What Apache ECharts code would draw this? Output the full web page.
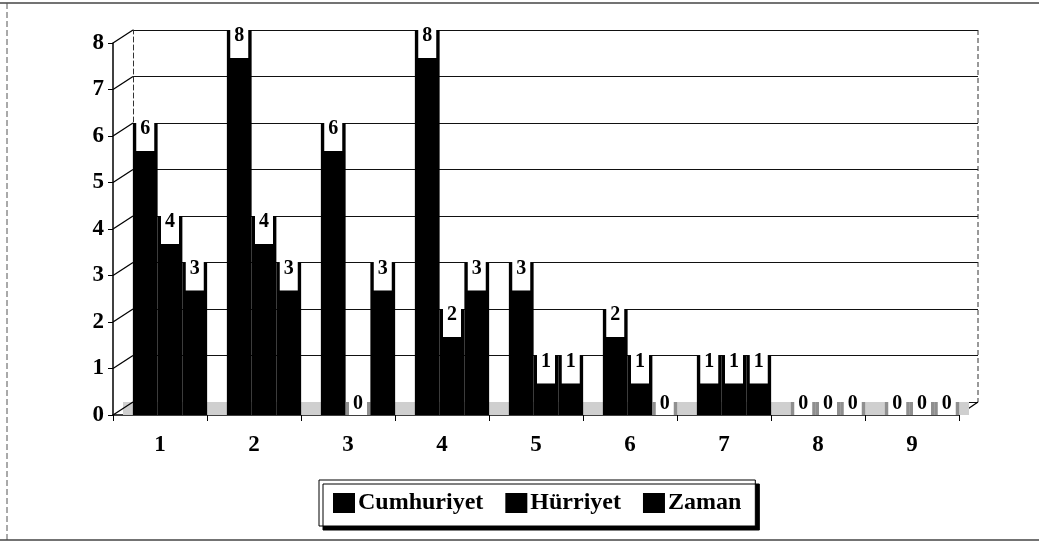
<!DOCTYPE html>
<html><head><meta charset="utf-8">
<script src="https://cdn.jsdelivr.net/npm/echarts@6/dist/echarts.min.js"></script>
<style>html,body{margin:0;padding:0;background:#fff}#c{width:1039px;height:543px}</style>
</head><body><div id="c"></div>
<script>
const categories = ['1','2','3','4','5','6','7','8','9'];
const cumhuriyet = [6,8,6,8,3,2,1,0,0];
const hurriyet   = [4,4,0,2,1,1,1,0,0];
const zaman      = [3,3,3,3,1,0,1,0,0];
const seriesNames = ['Cumhuriyet','Hürriyet','Zaman'];
const yTicks = [0,1,2,3,4,5,6,7,8];

// layout (3D-like depth offset)
const W = 1039, H = 543;
const FRONT = {left:113, right:80, top:43, bottom:128};
const BACK  = {left:133, right:61, top:30, bottom:141};
const BARS  = {left:123, right:70, top:30, bottom:128};
const DEPTH = 0.28; // floor depth in value units

const FONT = '"Liberation Serif", "Times New Roman", serif';
const allVals = [cumhuriyet, hurriyet, zaman];

function valueData(vals){
  return vals.map(v => ({
    value: v,
    label: v === 0 ? {position:'top', distance:0, padding:[2,4,1,4]} : {position:'insideTop', distance:-5}
  }));
}
function floorData(vals){
  return vals.map(v => ({value:-DEPTH, itemStyle:{color: v === 0 ? '#8f8f8f' : '#000'}}));
}

const series = [];
seriesNames.forEach((n,i)=>{
  const floor = {
    name:'floor'+i, type:'bar', xAxisIndex:2, yAxisIndex:2, stack:'s'+i,
    data:floorData(allVals[i]), barGap:'0%', barCategoryGap:'21%',
    silent:true, label:{show:false}
  };
  if (i === 0) {
    floor.markArea = {silent:true, itemStyle:{color:'#cfcfcf'},
      data:[[{yAxis:-DEPTH},{yAxis:0}]]};
  }
  series.push(floor);
  series.push({
    name:n, type:'bar', xAxisIndex:2, yAxisIndex:2, stack:'s'+i,
    data:valueData(allVals[i]), barGap:'0%', barCategoryGap:'21%',
    itemStyle:{color:'#000'},
    label:{show:true, color:'#000', backgroundColor:'#fff', fontFamily:FONT,
      fontSize:20, fontWeight:'bold', padding:[1,4,12,4]}
  });
});

const chart = echarts.init(document.getElementById('c'));
chart.setOption({
  animation:false,
  backgroundColor:'#fff',
  textStyle:{fontFamily:FONT},
  color:['#000','#000','#000','#000','#000','#000'],
  grid:[
    Object.assign({}, FRONT),
    Object.assign({}, BACK),
    Object.assign({}, BARS)
  ],
  legend:{
    data:seriesNames, left:319, top:480,
    padding:[11,14,11,14], itemGap:22, itemWidth:22, itemHeight:20,
    icon:'rect', backgroundColor:'#fff', borderColor:'#000', borderWidth:1,
    shadowColor:'#000', shadowOffsetX:4, shadowOffsetY:4, shadowBlur:0,
    textStyle:{fontFamily:FONT, fontSize:24, fontWeight:'bold', color:'#000', padding:[0,0,0,-2]}
  },
  xAxis:[
    {gridIndex:0, type:'category', data:categories,
      axisLine:{lineStyle:{color:'#000',width:1.5}},
      axisTick:{show:true, lineStyle:{color:'#000'}, length:6},
      axisLabel:{fontFamily:FONT, fontSize:23, fontWeight:'bold', color:'#000', margin:19}},
    {gridIndex:1, type:'category', data:categories, show:false},
    {gridIndex:2, type:'category', data:categories, show:false}
  ],
  yAxis:[
    {gridIndex:0, type:'value', min:0, max:8, interval:1,
      axisLine:{show:true, lineStyle:{color:'#000',width:1.5}},
      axisTick:{show:true, lineStyle:{color:'#000'}, length:5},
      axisLabel:{fontFamily:FONT, fontSize:23, fontWeight:'bold', color:'#000', margin:9,
        formatter:v => yTicks.includes(v) ? String(v) : ''},
      splitLine:{show:false}},
    {gridIndex:1, type:'value', min:0, max:8, interval:1,
      axisLine:{show:true, lineStyle:{color:'#333', type:[5,3], width:1}},
      axisTick:{show:false}, axisLabel:{show:false},
      splitLine:{lineStyle:{color:'#111', width:1.2}}},
    {gridIndex:2, type:'value', min:-DEPTH, max:8, show:false, splitLine:{show:false}}
  ],
  series: series
});

// depth connectors between front axis and back wall, computed from the axes
const g = [
  {type:'line', shape:{x1:0,y1:3,x2:W,y2:3}, style:{stroke:'#444',lineWidth:1.5}},
  {type:'line', shape:{x1:7,y1:3,x2:7,y2:540}, style:{stroke:'#555',lineWidth:1,lineDash:[6,3]}},
  {type:'line', shape:{x1:0,y1:540,x2:W,y2:540}, style:{stroke:'#444',lineWidth:1.5}}
];
yTicks.forEach(v=>{
  const fy = chart.convertToPixel({yAxisIndex:0}, v);
  const by = chart.convertToPixel({yAxisIndex:1}, v);
  g.push({type:'line', shape:{x1:FRONT.left, y1:fy, x2:BACK.left, y2:by}, style:{stroke:'#000', lineWidth:1.3}, z:1});
});
const fy0 = chart.convertToPixel({yAxisIndex:0}, 0);
const by0 = chart.convertToPixel({yAxisIndex:1}, 0);
const by8 = chart.convertToPixel({yAxisIndex:1}, 8);
g.push({type:'line', shape:{x1:W-FRONT.right, y1:fy0, x2:W-BACK.right, y2:by0}, style:{stroke:'#000', lineWidth:1.3}});
g.push({type:'line', shape:{x1:W-BACK.right, y1:by8, x2:W-BACK.right, y2:by0}, style:{stroke:'#333', lineWidth:1, lineDash:[5,3]}});
chart.setOption({graphic:g});
</script></body></html>
